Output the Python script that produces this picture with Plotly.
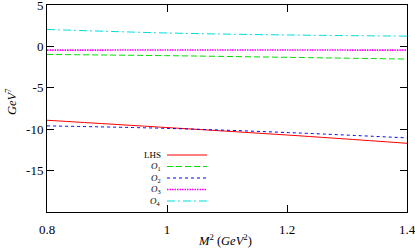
import plotly.graph_objects as go

x = [0.8, 1.0, 1.2, 1.4]
lhs = [-8.92, -9.8, -10.7, -11.7]
o1 = [-0.97, -1.12, -1.32, -1.53]
o2 = [-9.6, -9.9, -10.4, -11.05]
o3 = [-0.45, -0.44, -0.44, -0.45]
o4 = [2.05, 1.62, 1.38, 1.24]

names = ["LHS", "<i>O</i><sub>1</sub>", "<i>O</i><sub>2</sub>", "<i>O</i><sub>3</sub>", "<i>O</i><sub>4</sub>"]
series = [lhs, o1, o2, o3, o4]
colors = ["#ff0000", "#00dd00", "#0000ff", "#ff00ff", "#00dddd"]
dashes = ["solid", "6px,3px", "3px,3px", "1.5px,1px", "8px,3px,2px,3px"]
widths = [1, 1, 1, 1.6, 1]

xticks = [0.8, 1.0, 1.2, 1.4]
xticklabels = ["0.8", "1", "1.2", "1.4"]
yticks = [-15, -10, -5, 0, 5]
yticklabels = ["-15", "-10", "-5", "0", "5"]

fig = go.Figure()
for n, s, c, d, w in zip(names, series, colors, dashes, widths):
    fig.add_trace(go.Scatter(x=x, y=s, mode="lines", name=n, line=dict(color=c, dash=d, width=w),
                             line_shape="spline", showlegend=False))

# custom legend (text left of line sample)
L, R, T, B = 47, 407, 5, 212
def px(xp):
    return (xp - L) / (R - L)
def py(yp):
    return (B - yp) / (B - T)
rows = [155, 166.5, 178, 189.5, 201]
for n, c, d, w, yy in zip(names, colors, dashes, widths, rows):
    fig.add_shape(type="line", xref="paper", yref="paper", x0=px(167), x1=px(207), y0=py(yy), y1=py(yy),
                  line=dict(color=c, dash=d, width=w))
    fig.add_annotation(xref="paper", yref="paper", x=px(163), y=py(yy), text=n, showarrow=False,
                       xanchor="right", yanchor="middle", font=dict(size=9, color="black"))

# axis titles
fig.add_annotation(xref="paper", yref="paper", x=px(225), y=py(240), text="<i>M</i><sup>2</sup> (<i>GeV</i><sup>2</sup>)",
                   showarrow=False, xanchor="center", yanchor="middle", font=dict(size=12.5, color="black"))
fig.add_annotation(xref="paper", yref="paper", x=px(11), y=py(102), text="<i>GeV</i><sup>7</sup>", textangle=-90,
                   showarrow=False, xanchor="center", yanchor="middle", font=dict(size=12.5, color="black"))

axis_common = dict(showline=True, linecolor="black", linewidth=1, mirror="ticks", ticks="inside",
                   ticklen=7, tickcolor="black", showgrid=False, zeroline=False, automargin=False,
                   ticklabeloverflow="allow", tickfont=dict(size=13, color="black"))
fig.update_xaxes(range=[0.8, 1.4], tickvals=xticks, ticktext=xticklabels, ticklabelstandoff=5, **axis_common)
fig.update_yaxes(range=[-20, 5], tickvals=yticks, ticktext=yticklabels, **axis_common)
fig.update_layout(width=415, height=249, margin=dict(l=47, r=8, t=5, b=37),
                  paper_bgcolor="white", plot_bgcolor="white",
                  font=dict(family="'Liberation Serif', 'DejaVu Serif', serif", color="black"))
fig.write_html("out.html", config={"displayModeBar": False},
               post_script="document.body.style.margin='0';document.body.style.overflow='hidden';")
